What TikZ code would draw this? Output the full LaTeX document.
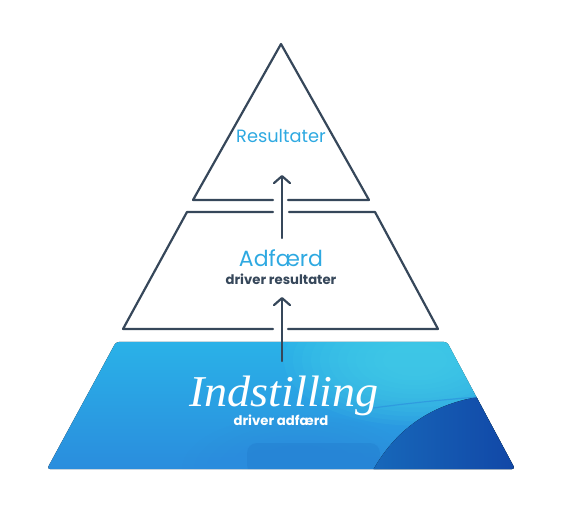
\documentclass[tikz,border=0pt]{standalone}
\usepackage{fontspec}
\setmainfont{Poppins}
\newfontfamily\indfont{Liberation Serif}
\usetikzlibrary{arrows.meta}
\definecolor{slate}{HTML}{36475A}
\definecolor{skyblue}{HTML}{2EA9E1}
\definecolor{bluetop}{HTML}{2AB2E8}
\definecolor{bluebot}{HTML}{2A8CDD}
\definecolor{cyanglow}{HTML}{4AD4E6}
\definecolor{deepA}{HTML}{1768BA}
\definecolor{deepB}{HTML}{1146A6}
\begin{document}
\begin{tikzpicture}[x=1pt,y=-1pt,line join=round,
  outline/.style={draw=slate,line width=2.2pt,line cap=round},
  uparrow/.style={draw=slate,line width=2.2pt,line cap=round,
    -{Straight Barb[length=7pt,width=16pt,line width=2.2pt,round]}},
  headtext/.style={text=skyblue,inner sep=0pt},
  subtext/.style={inner sep=0pt,font=\bfseries\fontsize{13.2}{15}\selectfont}]
\useasboundingbox (0,0) rectangle (574,508);
% triangle
\coordinate (tA) at (281,44);
\coordinate (tL) at (193,200);
\coordinate (tR) at (369,200);
\draw[outline] (273,200) -- (tL) -- (tA) -- (tR) -- (288,200);
% middle trapezoid
\coordinate (mTL) at (187,212);
\coordinate (mTR) at (375,212);
\coordinate (mBL) at (123,329);
\coordinate (mBR) at (438,329);
\draw[outline] (273,212) -- (mTL) -- (mBL) -- (273,329);
\draw[outline] (289,212) -- (mTR) -- (mBR) -- (288,329);
% bottom blue trapezoid
\coordinate (bTL) at (116,342);
\coordinate (bTR) at (447,342);
\coordinate (bBL) at (47,469);
\coordinate (bBR) at (515,469);
\begin{scope}
  \clip[rounded corners=3pt] (bTL) -- (bTR) -- (bBR) -- (bBL) -- cycle;
  \fill[top color=bluetop,bottom color=bluebot] (40,340) rectangle (520,472);
  \foreach \k in {1,...,12}{
    \fill[cyanglow,opacity=0.1] (415,360) ellipse ({140-9*\k} and {70-4.5*\k});
  }
  \foreach \k in {1,...,8}{
    \fill[bluebot,opacity=0.08] (300,470) ellipse ({130-12*\k} and {60-5*\k});
  }
  \fill[deepA,opacity=0.18,rounded corners=10pt] (247,443) rectangle (380,475);
  \fill[left color=deepA,right color=deepB] (372,472) .. controls (395,430) and (430,405) .. (478,397) -- (520,392) -- (520,472) -- cycle;
  \draw[bluebot,opacity=0.6,line width=1.2pt] (373,408) .. controls (410,403) and (440,400) .. (478,397);
\end{scope}
% texts
\node[headtext,font=\fontsize{17.8}{20}\selectfont] (res) at (281,136) {Resultater};
\node[headtext,font=\fontsize{22}{24}\selectfont] (adf) at (281,258) {Adfærd};
\node[subtext,text=slate] (drr) at (281,279) {driver resultater};
\node[inner sep=0pt,text=white,font=\indfont\itshape\fontsize{44}{46}\selectfont,xscale=1.05] (ind) at (284,396) {Indstilling};
\node[subtext,text=white] (dra) at (281,420) {driver adfærd};
% arrows
\coordinate (a1s) at (282,238);
\coordinate (a1e) at (282,175);
\coordinate (a2s) at (282,361);
\coordinate (a2e) at (282,297);
\draw[uparrow] (a1s) -- (a1e);
\draw[uparrow] (a2s) -- (a2e);
\end{tikzpicture}
\end{document}
